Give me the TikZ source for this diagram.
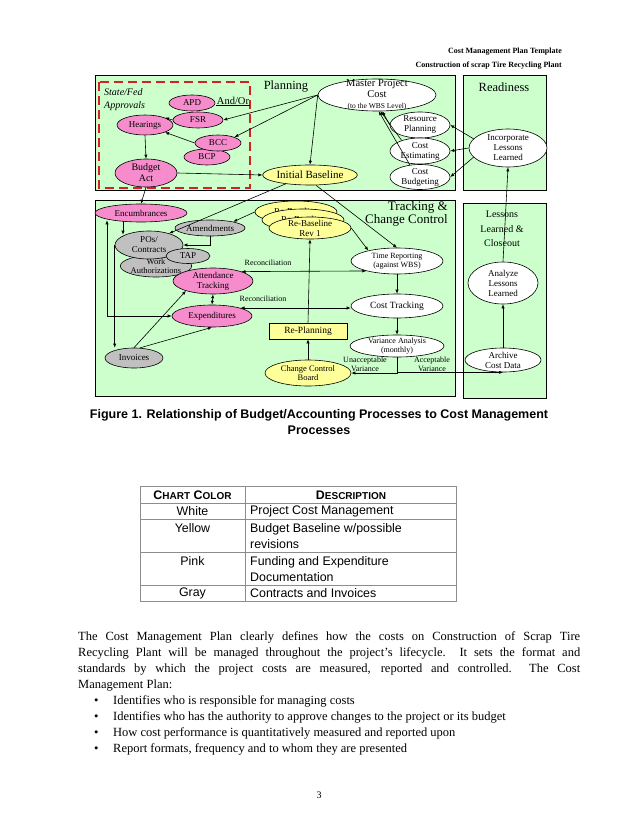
\documentclass[tikz,border=0pt]{standalone}
\usepackage{fontspec}
\setmainfont{Liberation Serif}
\setsansfont{Liberation Sans}
\usetikzlibrary{
    shapes.geometric,
    arrows.meta,
    positioning,
}
\definecolor{panelgreen}{RGB}{204,255,204}
\definecolor{bubblepink}{RGB}{247,140,205}
\definecolor{bubblegray}{RGB}{192,192,192}
\definecolor{bubbleyellow}{RGB}{255,255,153}
\definecolor{dashred}{RGB}{210,35,35}
\definecolor{rulegray}{RGB}{140,140,140}
\newcommand{\fs}[2]{\fontsize{#1}{#2}\selectfont}
\newcommand{\smallcap}[2]{#1{\fontsize{10}{12}\selectfont #2}}

\begin{document}
\begin{tikzpicture}[
    x=1pt, y=-1pt,
    panel/.style={draw, line width=0.7pt, fill=panelgreen},
    bubble/.style={draw, ellipse, inner xsep=0pt, inner ysep=-1.5pt, align=center, line width=0.6pt, font=\fs{9}{10}},
    whitebub/.style={bubble, fill=white},
    pinkbub/.style={bubble, fill=bubblepink},
    graybub/.style={bubble, fill=bubblegray},
    yellowbub/.style={bubble, fill=bubbleyellow},
    link/.style={-{Latex[length=4pt, width=3.2pt]}, line width=0.6pt},
    twoway/.style={{Latex[length=4pt, width=3.2pt]}-{Latex[length=4pt, width=3.2pt]}, line width=0.6pt},
    tag/.style={font=\fs{8}{9}, inner sep=0.5pt, align=center},
    bodyline/.style={anchor=base west, inner sep=0pt, font=\fs{12.5}{14}},
    cell/.style={font=\sffamily\fs{12.4}{16.5}, inner sep=0pt, align=left},
    tablerule/.style={draw=rulegray, line width=0.8pt},
]

\useasboundingbox (0,0) rectangle (638,826);
\fill[white] (0,0) rectangle (638,826);

% page header
\node[anchor=east, inner sep=0pt, font=\bfseries\fs{8}{9}] (hdrtitle) at (562,52) {Cost Management Plan Template};
\node[anchor=east, inner sep=0pt, font=\bfseries\fs{8}{9}] (hdrproject) at (562,66) {Construction of scrap Tire Recycling Plant};

% panels
\draw[panel] (95,75) rectangle (455,190);
\draw[panel] (463,75) rectangle (546,190);
\draw[panel] (95,200) rectangle (455,396);
\draw[panel] (463,203) rectangle (546,398);
\draw[dashred, line width=2.8pt, dash pattern=on 9pt off 5pt] (99,82) rectangle (250,188);

\node[anchor=west, inner sep=0pt, font=\itshape\fs{10}{11}] (statefed) at (104,92) {State/Fed};
\node[anchor=west, inner sep=0pt, font=\itshape\fs{10}{11}] (approvals) at (104,106) {Approvals};
\node[font=\fs{12.5}{13}, inner sep=0pt] (planning) at (286,87) {Planning};
\node[font=\fs{12.5}{13}, inner sep=0pt] (readiness) at (504,87) {Readiness};
\node[font=\fs{13}{13}, inner sep=0pt, anchor=east, align=right] (tracking) at (448,214) {Tracking \&\\Change Control};
\node[font=\fs{10}{14.5}, inner sep=0pt, align=center] (lessons) at (502,229) {Lessons\\Learned \&\\Closeout};

% planning
\node[whitebub, minimum width=118pt, minimum height=32pt, inner ysep=-4pt, font=\fs{10.5}{11}] (master) at (377,95) {Master Project\\Cost\\{\fs{7.5}{8}(to the WBS Level)}};
\node[pinkbub, minimum width=46pt, minimum height=16pt] (apd) at (192,103) {APD};
\node[pinkbub, minimum width=50pt, minimum height=16pt] (fsr) at (198,120) {FSR};
\node[tag, font=\fs{10.5}{11}] (andor) at (233,101) {And/Or};
\node[pinkbub, minimum width=56pt, minimum height=20pt] (hearings) at (145,125) {Hearings};
\node[pinkbub, minimum width=46pt, minimum height=16pt] (bcp) at (207,157) {BCP};
\node[pinkbub, minimum width=46pt, minimum height=16pt] (bcc) at (218,143) {BCC};
\node[pinkbub, minimum width=62pt, minimum height=28pt, font=\fs{10}{11}] (budget) at (146,173) {Budget\\Act};
\node[yellowbub, minimum width=92pt, minimum height=20pt, font=\fs{11}{12}] (initial) at (310,175) {Initial Baseline};
\node[whitebub, minimum width=60pt, minimum height=26pt] (resource) at (420,125) {Resource\\Planning};
\node[whitebub, minimum width=60pt, minimum height=26pt] (estimating) at (420,151) {Cost\\Estimating};
\node[whitebub, minimum width=60pt, minimum height=25pt] (budgeting) at (420,177) {Cost\\Budgeting};
\node[whitebub, minimum width=78pt, minimum height=38pt] (incorporate) at (508,148) {Incorporate\\Lessons\\Learned};

% tracking and change control
\node[pinkbub, minimum width=92pt, minimum height=18pt] (enc) at (141,213) {Encumbrances};
\node[graybub, minimum width=70pt, minimum height=16pt] (amend) at (210,228) {Amendments};
\node[graybub, minimum width=70pt, minimum height=22pt, font=\fs{8.5}{9.5}] (workauth) at (156,266) {Work\\Authorizations};
\node[graybub, minimum width=68pt, minimum height=28pt] (pos) at (149,245) {POs/\\Contracts};
\node[graybub, minimum width=44pt, minimum height=15pt] (tap) at (188,256) {TAP};
\node[pinkbub, minimum width=80pt, minimum height=26pt] (attend) at (213,281) {Attendance\\Tracking};
\node[pinkbub, minimum width=80pt, minimum height=22pt] (expend) at (212,316) {Expenditures};
\node[graybub, minimum width=58pt, minimum height=20pt] (invoices) at (134,358) {Invoices};
\node[yellowbub, minimum width=82pt, minimum height=22pt] (rebase3) at (296,212) {\raisebox{2pt}{Re-Baseline}};
\node[yellowbub, minimum width=82pt, minimum height=22pt] (rebase2) at (303,220) {\raisebox{2pt}{Re-Baseline}};
\node[yellowbub, minimum width=82pt, minimum height=22pt] (rebase1) at (310,228) {Re-Baseline\\Rev 1};
\node[whitebub, minimum width=92pt, minimum height=26pt, font=\fs{8}{9}] (timerep) at (397,261) {Time Reporting\\(against WBS)};
\node[whitebub, minimum width=92pt, minimum height=24pt, font=\fs{9.5}{10}] (costtrack) at (397,306) {Cost Tracking};
\node[whitebub, minimum width=94pt, minimum height=22pt, font=\fs{8}{9}] (variance) at (397,346) {Variance Analysis\\(monthly)};
\node[draw, fill=bubbleyellow, line width=0.6pt, minimum width=78pt, minimum height=16pt, inner sep=0pt, font=\fs{9.5}{10}] (replan) at (308,331) {Re-Planning};
\node[yellowbub, minimum width=86pt, minimum height=26pt, font=\fs{8.5}{9.5}] (ccb) at (308,373) {Change Control\\Board};
\node[tag] (recon1) at (268,263) {Reconciliation};
\node[tag] (recon2) at (263,299) {Reconciliation};
\node[tag] (unaccept) at (365,364) {Unacceptable\\Variance};
\node[tag] (accept) at (432,364) {Acceptable\\Variance};

% lessons learned
\node[whitebub, minimum width=70pt, minimum height=42pt] (analyze) at (503,283) {Analyze\\Lessons\\Learned};
\node[whitebub, minimum width=76pt, minimum height=24pt] (archive) at (503,360) {Archive\\Cost Data};

% planning connectors
\draw[line width=0.6pt] (andor.south west) -- (andor.south east);
\draw[link] (master.west) -- (fsr.east);
\draw[link] (master.west) -- (bcc.north east);
\draw[link] (master.west) -- (initial.north);
\draw[link] (resource.west) -- (master.-72);
\draw[link] (estimating.150) -- (master.-78);
\draw[link] (budgeting.130) -- (master.-84);
\draw[link] (incorporate.165) -- (resource.east);
\draw[link] (incorporate.180) -- (estimating.east);
\draw[link] (incorporate.195) -- (budgeting.east);
\draw[link] (fsr.west) -- (hearings.20);
\draw[link] (bcc.west) -- (hearings.-20);
\draw[link] (hearings.south) -- (budget.north);
\draw[link] (budget.east) -- (initial.west);

% tracking connectors
\draw[link] (budget.south) -- (enc.north);
\draw[link] (initial.200) -- (pos.30);
\draw[link] (initial.-60) -- (timerep.north);
\draw[link] (rebase3.west) -- (amend.15);
\draw[link] (rebase1.east) -- (timerep.160);
\draw[link] ([xshift=-18pt,yshift=1pt]enc.south) -- ([xshift=-26pt,yshift=-4pt]pos.north);
\draw[link] (amend.south) |- (pos.east);
\draw[twoway] ([xshift=-34pt,yshift=2pt]enc.south) |- (expend.west);
\draw[link] (pos.west) -- (pos.west |- invoices.north);
\draw[link] (invoices.north) -- (attend.200);
\draw[link] (invoices.60) -- (expend.south);
\draw[twoway] (attend.south) -- (expend.north);
\draw[twoway] (attend.north east) -- (timerep.198);
\draw[twoway] (expend.north east) -- (expend.north east -| costtrack.west);
\draw[link] (timerep.south) -- (costtrack.north);
\draw[link] (costtrack.south) -- (variance.north);
\draw[link] (variance.south) |- (ccb.east);
\draw[link] (variance.south) |- (archive.south);
\draw[link] (ccb.north) -- (replan.south);
\draw[link] (replan.north) -- (rebase1.south);

% lessons connectors
\draw[link] (archive.north) -- (analyze.south);
\draw[link] (analyze.north) -- (incorporate.south);

% caption
\node[font=\sffamily\bfseries\fs{12.5}{16}, align=center, inner sep=0pt] (caption) at (319,422) {Figure 1. Relationship of Budget/Accounting Processes to Cost Management\\Processes};

% colour table
\draw[tablerule] (140,486) rectangle (456,601);
\draw[tablerule] (245,486) -- (245,601);
\draw[tablerule] (140,503) -- (456,503);
\draw[tablerule] (140,519.5) -- (456,519.5);
\draw[tablerule] (140,552.5) -- (456,552.5);
\draw[tablerule] (140,585) -- (456,585);
\node[cell, font=\sffamily\bfseries\fs{12.4}{16}] (hdrcolor) at (192.5,495) {\smallcap{C}{HART} \smallcap{C}{OLOR}};
\node[cell, font=\sffamily\bfseries\fs{12.4}{16}] (hdrdesc) at (351,495) {\smallcap{D}{ESCRIPTION}};
\node[cell] (white) at (192.5,511) {White};
\node[cell, anchor=west] (whitedesc) at (250,511) {Project Cost Management};
\node[cell] (yellow) at (192.5,528) {Yellow};
\node[cell, anchor=west] (yellowdesc) at (250,536) {Budget Baseline w/possible\\revisions};
\node[cell] (pink) at (192.5,561) {Pink};
\node[cell, anchor=west] (pinkdesc) at (250,569) {Funding and Expenditure\\Documentation};
\node[cell] (gray) at (192.5,593) {Gray};
\node[cell, anchor=west] (graydesc) at (250,593) {Contracts and Invoices};

% body text
\node[bodyline] (para1) at (78,640) {\makebox[502pt][s]{The Cost Management Plan clearly defines how the costs on Construction of Scrap Tire}};
\node[bodyline] (para2) at (78,656) {\makebox[502pt][s]{Recycling Plant will be managed throughout the project’s lifecycle.\ \ It sets the format and}};
\node[bodyline] (para3) at (78,672) {\makebox[502pt][s]{standards by which the project costs are measured, reported and controlled.\ \ The Cost}};
\node[bodyline] (para4) at (78,688) {Management Plan:};
\node[bodyline] (dot1) at (94,704) {•};
\node[bodyline] (item1) at (113,704) {Identifies who is responsible for managing costs};
\node[bodyline] (dot2) at (94,720) {•};
\node[bodyline] (item2) at (113,720) {Identifies who has the authority to approve changes to the project or its budget};
\node[bodyline] (dot3) at (94,736) {•};
\node[bodyline] (item3) at (113,736) {How cost performance is quantitatively measured and reported upon};
\node[bodyline] (dot4) at (94,752) {•};
\node[bodyline] (item4) at (113,752) {Report formats, frequency and to whom they are presented};
\node[font=\fs{10}{12}, inner sep=0pt] (pagenum) at (319,795) {3};

\end{tikzpicture}
\end{document}
